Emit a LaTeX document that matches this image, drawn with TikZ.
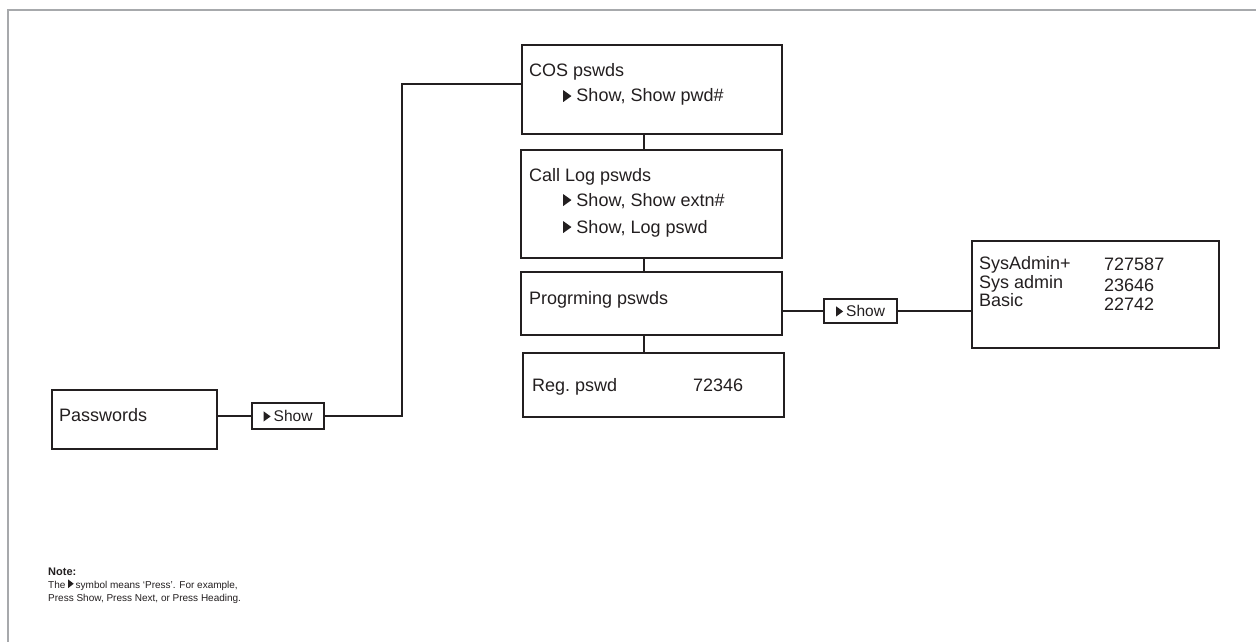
\documentclass[tikz,border=0pt]{standalone}
\usepackage{fontspec}
\setmainfont{Liberation Sans}
\definecolor{ink}{HTML}{231F20}
\definecolor{framec}{HTML}{A7A9AC}
\newcommand{\tri}{\tikz[baseline=0pt,x=1em,y=1em]\fill[ink] (0,0) -- (0,0.66) -- (0.46,0.33) -- cycle;}
\newcommand{\bigtri}{\tikz[baseline=-0.5pt,x=1em,y=1em]\fill[ink] (0,-0.05) -- (0,0.8) -- (0.55,0.375) -- cycle;}
\begin{document}
\begin{tikzpicture}[x=1pt,y=-1pt,
  box/.style={draw=ink,line width=2pt,inner sep=0pt,rectangle},
  btn/.style={draw=ink,line width=2pt,inner sep=0pt,rectangle,text=ink,font=\fontsize{15.5}{17}\selectfont},
  lbl/.style={inner sep=0pt,anchor=base west,text=ink,font=\fontsize{18}{21}\selectfont},
  note/.style={inner sep=0pt,anchor=base west,text=ink,font=\fontsize{10}{12}\selectfont},
  wire/.style={draw=ink,line width=1.6pt}]
\useasboundingbox (0,0) rectangle (1256,642);
\fill[white] (0,0) rectangle (1256,642);
% frame
\draw[framec,line width=2pt] (8,642) -- (8,10) -- (1256,10);
% boxes
\node[box,minimum width=165pt,minimum height=59pt] (pw) at (134.5,419.5) {};
\node[btn,minimum width=72pt,minimum height=26pt] (sh1) at (288,416) {\tri\hspace{3pt}Show};
\node[box,minimum width=260pt,minimum height=89pt] (cos) at (652,89.5) {};
\node[box,minimum width=261pt,minimum height=108pt] (cl) at (651.5,204) {};
\node[box,minimum width=261pt,minimum height=63pt] (pg) at (651.5,303.5) {};
\node[box,minimum width=261pt,minimum height=64pt] (reg) at (653.5,385) {};
\node[btn,minimum width=73pt,minimum height=24pt] (sh2) at (860.5,311) {\tri\hspace{3pt}Show};
\node[box,minimum width=247pt,minimum height=107pt] (sa) at (1095.5,294.5) {};
% texts
\node[lbl] (tpw) at (59,421) {Passwords};
\node[lbl] (tcos) at (529,77) {COS pswds};
\node[lbl] (tcos1) at (563,102) {\tri\hspace{5pt}Show, Show pwd\#};
\node[lbl] (tcl) at (529,181) {Call Log pswds};
\node[lbl] (tcl1) at (563,206) {\tri\hspace{5pt}Show, Show extn\#};
\node[lbl] (tcl2) at (563,233) {\tri\hspace{5pt}Show, Log pswd};
\node[lbl] (tpg) at (529,304) {Progrming pswds};
\node[lbl] (treg) at (532,391) {Reg.\ pswd};
\node[lbl] (tregv) at (693,391) {72346};
\node[lbl] (ts1) at (979,269) {SysAdmin+};
\node[lbl] (ts2) at (979,288) {Sys admin};
\node[lbl] (ts3) at (979,306) {Basic};
\node[lbl] (tv1) at (1104,270) {727587};
\node[lbl] (tv2) at (1104,291) {23646};
\node[lbl] (tv3) at (1104,310) {22742};
% note
\node[note,font=\fontsize{11}{12}\selectfont\bfseries] (nt0) at (48,575) {Note:};
\node[note] (nt1) at (48,588) {The \bigtri\hspace{2pt}symbol means ‘Press’. For example,};
\node[note] (nt2) at (48,601) {Press Show, Press Next, or Press Heading.};
% connectors
\coordinate (vx) at (644,0);
\coordinate (bend) at (402,84);
\coordinate (cosin) at (522,84);
\draw[wire] (sh1.west) -- (sh1.west -| pw.east);
\draw[wire] (sh1.east) -| (bend) -- (cosin);
\draw[wire] (cos.south -| vx) -- (cl.north -| vx);
\draw[wire] (cl.south -| vx) -- (pg.north -| vx);
\draw[wire] (pg.south -| vx) -- (reg.north -| vx);
\draw[wire] (sh2.west) -- (sh2.west -| pg.east);
\draw[wire] (sh2.east) -- (sh2.east -| sa.west);
\end{tikzpicture}
\end{document}
